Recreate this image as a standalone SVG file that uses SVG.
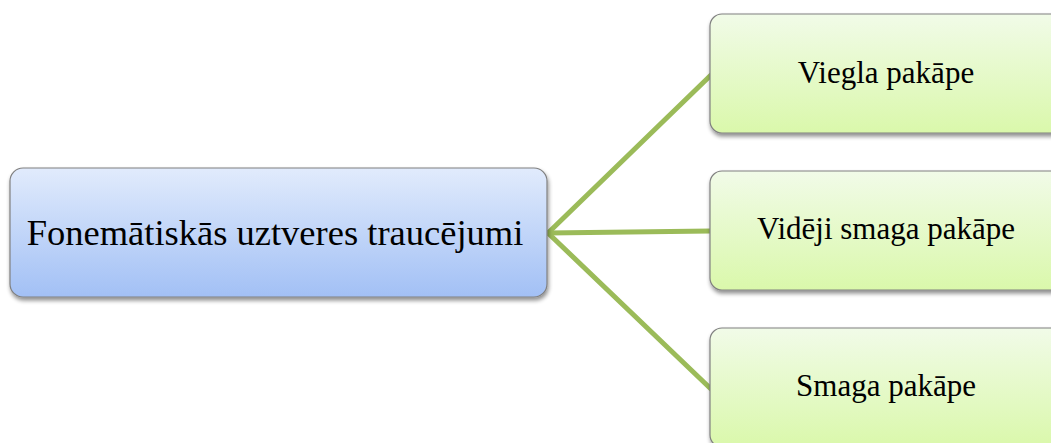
<svg xmlns="http://www.w3.org/2000/svg" width="1051" height="443" viewBox="0 0 1051 443">
<defs>
<linearGradient id="gBlue" x1="0" y1="0" x2="0" y2="1">
<stop offset="0" stop-color="#e1ebfc"/>
<stop offset="1" stop-color="#a2c0f5"/>
</linearGradient>
<linearGradient id="gGreen" x1="0" y1="0" x2="0" y2="1">
<stop offset="0" stop-color="#f1fbe8"/>
<stop offset="1" stop-color="#daf8ab"/>
</linearGradient>
<filter id="sh" x="-5%" y="-10%" width="110%" height="125%">
<feGaussianBlur in="SourceAlpha" stdDeviation="2"/>
<feOffset dx="1" dy="3" result="b"/>
<feComponentTransfer><feFuncA type="linear" slope="0.45"/></feComponentTransfer>
<feMerge><feMergeNode/><feMergeNode in="SourceGraphic"/></feMerge>
</filter>
</defs>
<style>
.box{stroke:#808080;stroke-width:1.2}
.conn{stroke:#9bbb59;stroke-width:5;fill:none;stroke-linecap:round}
.t{font-family:"Liberation Serif","Times New Roman",serif;fill:#000;text-anchor:middle}
</style>
<rect width="1051" height="443" fill="#ffffff"/>
<g id="connectors">
<line class="conn" x1="548" y1="233" x2="711" y2="75"/>
<line class="conn" x1="548" y1="233" x2="711" y2="231"/>
<line class="conn" x1="548" y1="233" x2="711" y2="389"/>
</g>
<g id="root">
<rect class="box" x="10" y="168" width="537" height="129" rx="13" fill="url(#gBlue)" filter="url(#sh)"/>
<text class="t" x="275" y="245" font-size="36.5">Fonemātiskās uztveres traucējumi</text>
</g>
<g id="n1">
<rect class="box" x="710" y="14" width="360" height="119" rx="12" fill="url(#gGreen)" filter="url(#sh)"/>
<text class="t" x="886" y="83" font-size="31">Viegla pakāpe</text>
</g>
<g id="n2">
<rect class="box" x="710" y="171" width="360" height="119" rx="12" fill="url(#gGreen)" filter="url(#sh)"/>
<text class="t" x="886" y="239" font-size="31">Vidēji smaga pakāpe</text>
</g>
<g id="n3">
<rect class="box" x="710" y="328" width="360" height="119" rx="12" fill="url(#gGreen)" filter="url(#sh)"/>
<text class="t" x="886" y="396" font-size="31">Smaga pakāpe</text>
</g>
</svg>
